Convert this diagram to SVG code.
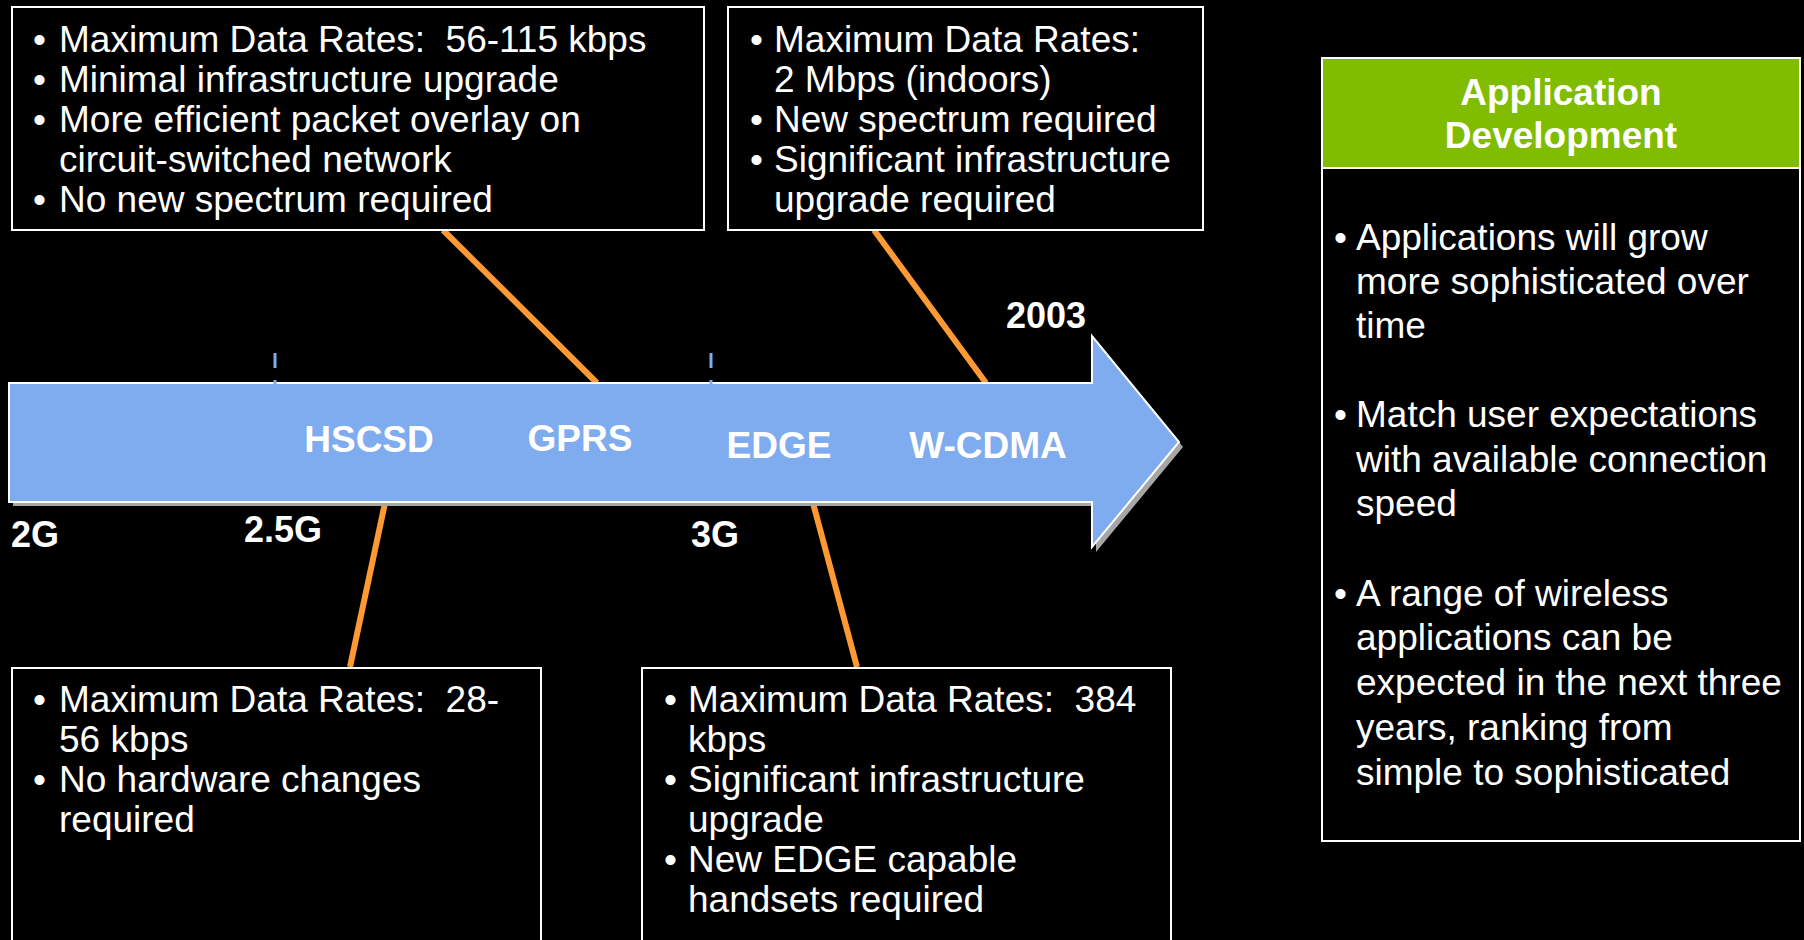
<svg xmlns="http://www.w3.org/2000/svg" width="1804" height="940" viewBox="0 0 1804 940">
<style>
.box{fill:#000;stroke:#fff;stroke-width:2}
.t{font-family:"Liberation Sans",Arial,sans-serif;font-size:37px;fill:#fff}
.b{font-family:"Liberation Sans",Arial,sans-serif;font-size:37px;font-weight:bold;fill:#fff}
.conn{stroke:#FF9933;stroke-width:6;fill:none}
.tick{stroke:#7FABEF;stroke-width:3}
</style>
<rect width="1804" height="940" fill="#000"/>
<g id="connectors">
<line class="conn" x1="443" y1="230" x2="597" y2="383"/>
<line class="conn" x1="874" y1="230" x2="986" y2="383"/>
<line class="conn" x1="385" y1="503" x2="350" y2="667"/>
<line class="conn" x1="813" y1="503" x2="857" y2="667"/>
</g>
<g id="timeline">
<path d="M13,388 H1096 V340 L1183,447 L1096,552 V506 H13 Z" fill="#A6A6A6"/>
<path d="M9,383 H1092 V336 L1179,442 L1092,547 V502 H9 Z" fill="#7FABEF" stroke="#fff" stroke-width="2"/>
<line class="tick" x1="275" y1="353" x2="275" y2="368"/>
<line class="tick" x1="275" y1="380" x2="275" y2="386"/>
<line class="tick" x1="711" y1="353" x2="711" y2="368"/>
<line class="tick" x1="711" y1="380" x2="711" y2="386"/>
<text class="b" x="369" y="452" text-anchor="middle">HSCSD</text>
<text class="b" x="580" y="451" text-anchor="middle">GPRS</text>
<text class="b" x="779" y="458" text-anchor="middle">EDGE</text>
<text class="b" x="988" y="458" text-anchor="middle">W-CDMA</text>
<text class="b" x="11" y="547" style="font-size:36px">2G</text>
<text class="b" x="244" y="542" style="font-size:36px">2.5G</text>
<text class="b" x="691" y="547" style="font-size:36px">3G</text>
<text class="b" x="1006" y="328" style="font-size:36px">2003</text>
</g>
<g id="box-gprs">
<rect class="box" x="12" y="7" width="692" height="223"/>
<text class="t"><tspan x="33" y="52">•</tspan><tspan x="59" y="52" xml:space="preserve">Maximum Data Rates:  56-115 kbps</tspan><tspan x="33" y="92">•</tspan><tspan x="59" y="92">Minimal infrastructure upgrade</tspan><tspan x="33" y="132">•</tspan><tspan x="59" y="132">More efficient packet overlay on</tspan><tspan x="59" y="172">circuit-switched network</tspan><tspan x="33" y="212">•</tspan><tspan x="59" y="212">No new spectrum required</tspan></text>
</g>
<g id="box-wcdma">
<rect class="box" x="728" y="7" width="475" height="223"/>
<text class="t"><tspan x="750" y="52">•</tspan><tspan x="774" y="52">Maximum Data Rates:</tspan><tspan x="774" y="92">2 Mbps (indoors)</tspan><tspan x="750" y="132">•</tspan><tspan x="774" y="132">New spectrum required</tspan><tspan x="750" y="172">•</tspan><tspan x="774" y="172">Significant infrastructure</tspan><tspan x="774" y="212">upgrade required</tspan></text>
</g>
<g id="box-hscsd">
<rect class="box" x="12" y="668" width="529" height="300"/>
<text class="t"><tspan x="33" y="712">•</tspan><tspan x="59" y="712" xml:space="preserve">Maximum Data Rates:  28-</tspan><tspan x="59" y="752">56 kbps</tspan><tspan x="33" y="792">•</tspan><tspan x="59" y="792">No hardware changes</tspan><tspan x="59" y="832">required</tspan></text>
</g>
<g id="box-edge">
<rect class="box" x="642" y="668" width="529" height="300"/>
<text class="t"><tspan x="664" y="712">•</tspan><tspan x="688" y="712" xml:space="preserve">Maximum Data Rates:  384</tspan><tspan x="688" y="752">kbps</tspan><tspan x="664" y="792">•</tspan><tspan x="688" y="792">Significant infrastructure</tspan><tspan x="688" y="832">upgrade</tspan><tspan x="664" y="872">•</tspan><tspan x="688" y="872">New EDGE capable</tspan><tspan x="688" y="912">handsets required</tspan></text>
</g>
<g id="app-dev">
<rect class="box" x="1322" y="58" width="478" height="783"/>
<rect x="1323" y="59" width="476" height="109" fill="#80BC00"/>
<line x1="1322" y1="168" x2="1800" y2="168" stroke="#fff" stroke-width="2"/>
<text class="b" x="1561" y="105" text-anchor="middle">Application</text>
<text class="b" x="1561" y="148" text-anchor="middle">Development</text>
<text class="t"><tspan x="1334" y="250">•</tspan><tspan x="1356" y="250">Applications will grow</tspan><tspan x="1356" y="294">more sophisticated over</tspan><tspan x="1356" y="338">time</tspan><tspan x="1334" y="427">•</tspan><tspan x="1356" y="427">Match user expectations</tspan><tspan x="1356" y="472">with available connection</tspan><tspan x="1356" y="516">speed</tspan><tspan x="1334" y="606">•</tspan><tspan x="1356" y="606">A range of wireless</tspan><tspan x="1356" y="650">applications can be</tspan><tspan x="1356" y="695">expected in the next three</tspan><tspan x="1356" y="740">years, ranking from</tspan><tspan x="1356" y="785">simple to sophisticated</tspan></text>
</g>
</svg>
